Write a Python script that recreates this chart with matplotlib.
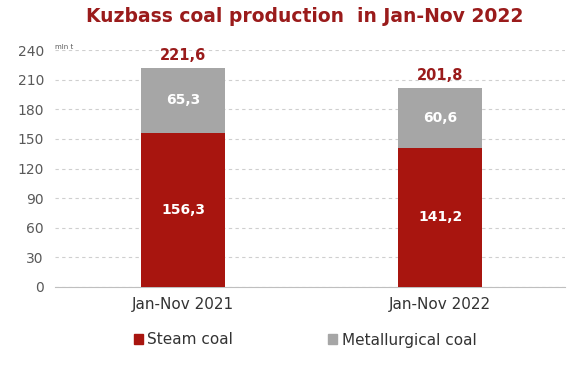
import matplotlib
matplotlib.use("Agg")
from matplotlib import pyplot as plt
from matplotlib.patches import Patch

periods = ["Jan-Nov 2021", "Jan-Nov 2022"]
steam = [156.3, 141.2]
metallurgical = [65.3, 60.6]
totals = [221.6, 201.8]
yticks = [0, 30, 60, 90, 120, 150, 180, 210, 240]

RED = "#a8150f"
GREY = "#a6a6a6"
DARK_RED = "#9a1b1b"
TICK_GREY = "#595959"


def fmt(v):
    return f"{v:.1f}".replace(".", ",")


fig = plt.figure(figsize=(5.81, 3.68), dpi=100)
ax = fig.add_axes((55 / 581, 1 - 287 / 368, 510 / 581, 237 / 368))

xs = list(range(len(periods)))
width = 0.33
ax.bar(xs, steam, width, color=RED, zorder=3)
ax.bar(xs, metallurgical, width, bottom=steam, color=GREY, zorder=3)

for x, s, m, t in zip(xs, steam, metallurgical, totals):
    ax.text(x, s / 2, fmt(s), ha="center", va="center", color="white",
            fontsize=10, fontweight="bold", zorder=4)
    ax.text(x, s + m / 2, fmt(m), ha="center", va="center", color="white",
            fontsize=10, fontweight="bold", zorder=4)
    ax.text(x, t + 5, fmt(t), ha="center", va="bottom", color=DARK_RED,
            fontsize=10.5, fontweight="bold", zorder=4)

ax.set_xlim(-0.498, 1.486)
ax.set_ylim(0, 240)
ax.set_yticks(yticks)
ax.set_xticks(xs)
ax.set_xticklabels(periods)
ax.tick_params(axis="both", length=0, colors=TICK_GREY, labelsize=10)
ax.tick_params(axis="x", pad=7, colors="#333333", labelsize=11)
ax.tick_params(axis="y", pad=8)
ax.yaxis.grid(True, linestyle=(0, (3, 3)), color="#cfcfcf", linewidth=0.8, zorder=0)
for side in ["top", "right", "left"]:
    ax.spines[side].set_visible(False)
ax.spines["bottom"].set_color("#bfbfbf")

ax.text(0.0, 1.0, "mln t", transform=ax.transAxes, fontsize=5,
        color=TICK_GREY, ha="left", va="bottom")

fig.text(305 / 581, 1 - 16 / 368, "Kuzbass coal production  in Jan-Nov 2022",
         ha="center", va="center", fontsize=13.5, fontweight="bold", color=DARK_RED)

handles = [Patch(color=RED, label="Steam coal"),
           Patch(color=GREY, label="Metallurgical coal")]
fig.legend(handles=handles, loc="center", bbox_to_anchor=(305 / 581, 1 - 340 / 368),
           ncol=2, frameon=False, fontsize=11, handlelength=0.6, handleheight=0.6,
           handletextpad=0.3, columnspacing=6.2, labelcolor="#333333")

fig.savefig("out.png", dpi=100, facecolor="white")
